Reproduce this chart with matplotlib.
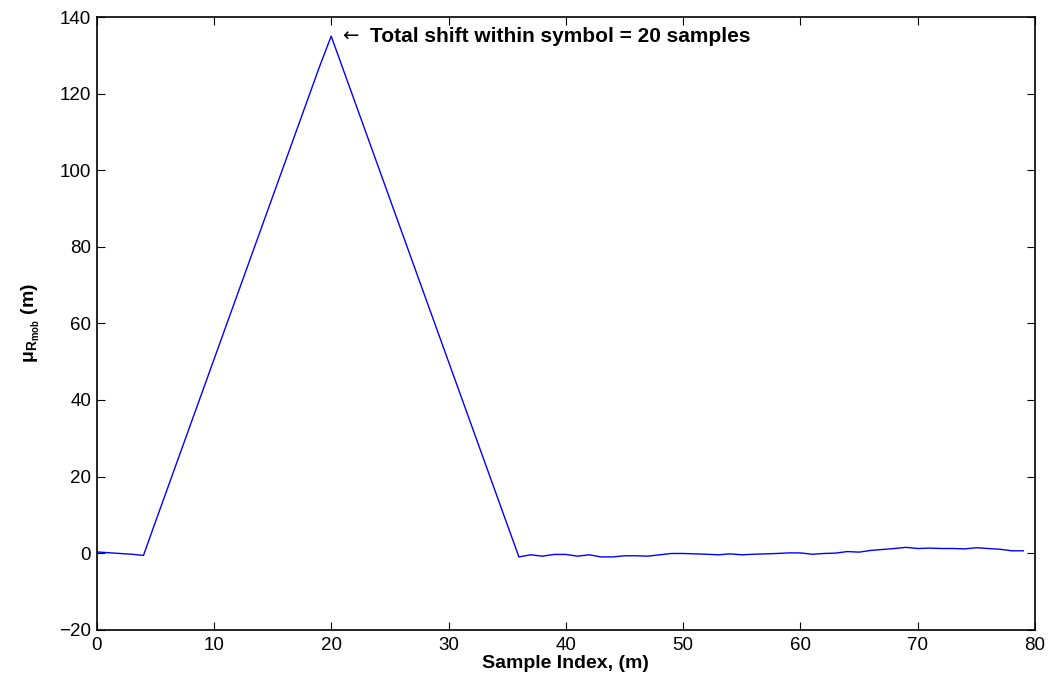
import numpy as np
import matplotlib
matplotlib.use("Agg")
import matplotlib.pyplot as plt

plt.rcParams['font.family'] = ['Liberation Sans', 'DejaVu Sans']
plt.rcParams['mathtext.fontset'] = 'custom'
plt.rcParams['mathtext.rm'] = 'Liberation Sans'
plt.rcParams['mathtext.it'] = 'Liberation Sans:italic'
plt.rcParams['mathtext.bf'] = 'Liberation Sans:bold'

#%% Données : moyenne du retard mobile par échantillon

# début avant le décalage
mu_debut = [0.3, 0.1, -0.1, -0.3, -0.6]
# montée puis descente du décalage (x = 5..35)
mu_rampe = [8.0, 16.5, 25.0, 33.5, 42.0, 50.5, 59.0, 67.5, 76.0, 84.5, 93.0,
            101.5, 110.0, 118.5, 127.0, 135.0,
            126.5, 118.0, 109.5, 101.0, 92.5, 84.0, 75.5, 67.0, 58.5, 50.0,
            41.5, 33.0, 24.5, 16.0, 7.5]
# après le décalage (x = 36..79)
mu_fin = [-1.0, -0.45, -0.8, -0.35, -0.35, -0.8, -0.45, -1.0, -1.0, -0.7,
          -0.7, -0.8, -0.45, -0.1, -0.1, -0.2, -0.3, -0.45, -0.2, -0.45,
          -0.3, -0.2, -0.1, 0.05, 0.05, -0.3, -0.1, 0.0, 0.4, 0.25,
          0.7, 0.95, 1.2, 1.5, 1.2, 1.3, 1.2, 1.2, 1.1, 1.4,
          1.2, 1.0, 0.6, 0.6]

mu = np.array(mu_debut + mu_rampe + mu_fin)
m = np.arange(len(mu))

pic_x = 20
texte_pic = "Total shift within symbol = 20 samples"

#%% Tracé

fig = plt.figure(figsize=(10.53, 6.8), dpi=100)
ax = fig.add_axes([0.0917, 0.074, 0.8913, 0.901])

ax.plot(m, mu, color='#0000ff', lw=1.0)

ax.set_xlim(0, 80)
ax.set_ylim(-20, 140)
ax.set_xticks(np.arange(0, 81, 10))
ax.set_yticks(np.arange(-20, 141, 20))
ax.set_yticklabels([str(v).replace('-', '\u2212') for v in range(-20, 141, 20)])
ax.tick_params(direction='in', top=True, right=True, length=5.5, width=0.8,
               labelsize=13.5)
ax.tick_params(axis='x', pad=5)
ax.tick_params(axis='y', pad=4)
for s in ax.spines.values():
    s.set_linewidth(1.2)

# flèche fine puis texte en gras
ax.text(pic_x + 0.9, mu[pic_x], '\u2190', family='DejaVu Sans',
        fontsize=14, va='center', ha='left')
ax.text(pic_x + 3.3, mu[pic_x], texte_pic,
        fontsize=15, fontweight='bold', va='center', ha='left')

ax.set_xlabel("Sample Index, (m)", fontsize=14, fontweight='bold', labelpad=1)
ax.set_ylabel('\u03bc' + r'$_{\mathbf{R}_{\mathbf{mob}}}$ (m)', fontsize=14,
              fontweight='bold', labelpad=12)

fig.savefig("out.png", dpi=100)
